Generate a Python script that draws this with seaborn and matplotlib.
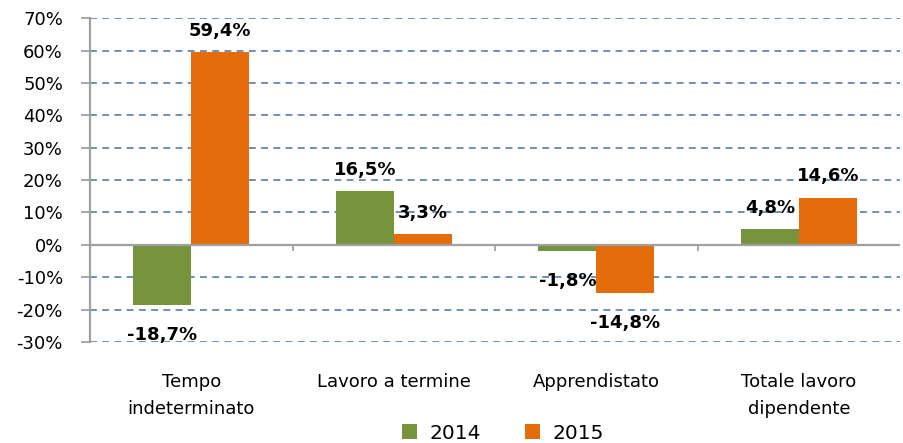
import pandas as pd
import seaborn as sns
import matplotlib.pyplot as plt

sns.set_style('white')
plt.rcParams['font.family'] = ['DejaVu Sans']

categories = ["Tempo\nindeterminato", "Lavoro a termine", "Apprendistato", "Totale lavoro\ndipendente"]
years = ["2014", "2015"]
val_2014 = [-18.7, 16.5, -1.8, 4.8]
val_2015 = [59.4, 3.3, -14.8, 14.6]
yticks = [-30, -20, -10, 0, 10, 20, 30, 40, 50, 60, 70]

df = pd.DataFrame({
    "cat": categories * 2,
    "year": [years[0]] * 4 + [years[1]] * 4,
    "val": val_2014 + val_2015,
})

fig = plt.figure(figsize=(9.04, 4.43), dpi=100)
ax = fig.add_axes([0.0996, 0.228, 0.8960, 0.731])

sns.barplot(data=df, x="cat", y="val", hue="year", palette=["#77933C", "#E46C0A"],
            width=0.572, saturation=1, edgecolor="none", ax=ax, legend=True)

# labels outside the bar end, negatives sit a bit further off
for cont in ax.containers:
    pos = [f"{b.get_height():.1f}%".replace(".", ",") if b.get_height() >= 0 else "" for b in cont]
    neg = [f"{b.get_height():.1f}%".replace(".", ",") if b.get_height() < 0 else "" for b in cont]
    ax.bar_label(cont, labels=pos, padding=9, fontsize=13, fontweight="bold", color="black")
    ax.bar_label(cont, labels=neg, padding=15, fontsize=13, fontweight="bold", color="black")

ax.set_ylim(-30, 70)
ax.set_xlim(-0.5, 3.5)
ax.set_yticks(yticks)
ax.set_yticklabels([f"{t}%" for t in yticks], fontsize=13, color="black")
ax.set_xticks(range(4))
ax.set_xticklabels(categories, fontsize=13, color="black", linespacing=1.7)
ax.set_xlabel("")
ax.set_ylabel("")

ax.yaxis.grid(True, linestyle=(0, (4.5, 3.5)), color="#4A70A4", linewidth=1.1)
ax.set_axisbelow(True)
ax.axhline(0, color="#A0A0A0", linewidth=1.6, zorder=3)
ax.vlines([0.5, 1.5, 2.5], -1.8, 0, color="#A0A0A0", linewidth=1.3, zorder=3)

for s in ["top", "right", "bottom"]:
    ax.spines[s].set_visible(False)
ax.spines["left"].set_color("#A0A0A0")
ax.spines["left"].set_linewidth(1.6)
ax.tick_params(axis="y", direction="out", length=6.5, width=1.3, color="#A0A0A0", pad=13, left=True)
ax.tick_params(axis="x", length=0, pad=22)

handles, lbls = ax.get_legend_handles_labels()
ax.get_legend().remove()
fig.legend(handles, lbls, loc="lower center", bbox_to_anchor=(0.556, -0.04), ncol=2,
           frameon=False, fontsize=14.5, handlelength=0.75, handleheight=0.75,
           columnspacing=2.2, handletextpad=0.6, labelcolor="black")

fig.savefig("out.png", dpi=100)
